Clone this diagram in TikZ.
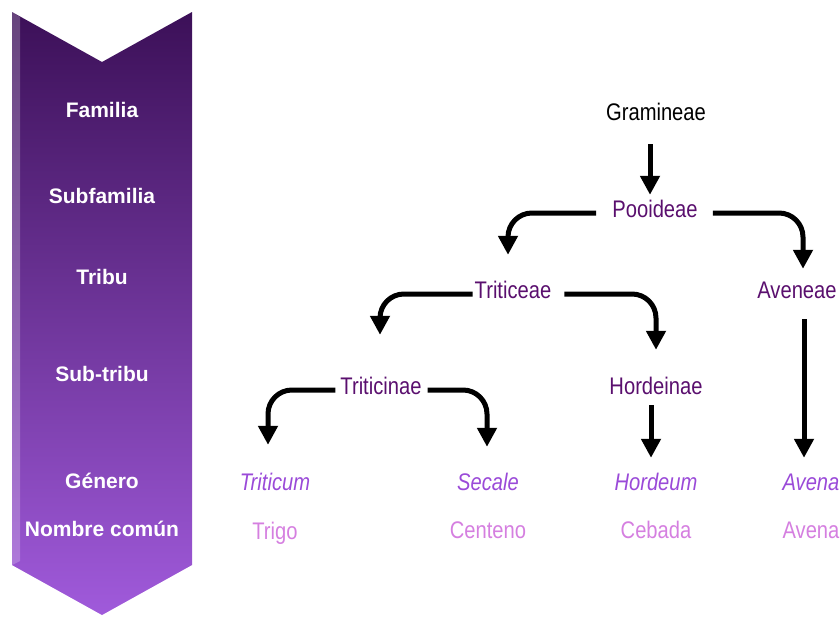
\documentclass[tikz,border=0pt]{standalone}
\usepackage{fontspec}
\setmainfont{Liberation Sans}
\newfontfamily\narrowfont{Liberation Sans}[FakeStretch=0.84]
\usepackage{tikz}
\usetikzlibrary{arrows.meta, positioning}
\definecolor{bandtop}{HTML}{3C1058}
\definecolor{bandbottom}{HTML}{A05ADB}
\definecolor{rankcol}{HTML}{5A0F6E}
\definecolor{genuscol}{HTML}{9A4AD8}
\definecolor{commoncol}{HTML}{D57FE0}
\tikzstyle{rank}=[text=white,font=\fontsize{21}{25}\selectfont\bfseries]
\tikzstyle{taxon}=[inner sep=0pt,text height=17pt,text depth=5pt,font=\fontsize{24}{28}\narrowfont]
\tikzstyle{genus}=[taxon,text=genuscol,font=\fontsize{24}{28}\narrowfont\itshape]
\tikzstyle{common}=[taxon,text=commoncol]
\tikzstyle{mainedge}=[-{Triangle[length=19pt,width=19pt]},line width=5pt,rounded corners=24pt]

\begin{document}
\begin{tikzpicture}[x=1pt,y=-1pt]
\useasboundingbox (0,0) rectangle (840,619);
% banner
\shade[top color=bandtop,bottom color=bandbottom] (12,12) -- (102,62) -- (192,12) -- (192,565) -- (102,615) -- (12,565) -- cycle;
\fill[white,opacity=0.22] (12,12) -- (20,17) -- (20,561) -- (12,565) -- cycle;
\node[rank] (familia) at (102,110) {Familia};
\node[rank] (subfamilia) at (102,196) {Subfamilia};
\node[rank] (tribu) at (102,277) {Tribu};
\node[rank] (subtribu) at (102,374) {Sub-tribu};
\node[rank] (genero) at (102,481) {Género};
\node[rank] (nombre) at (102,529) {Nombre común};
% tree
\node[taxon] (gram) at (656,114) {Gramineae};
\node[taxon,text=rankcol] (pooi) at (655,211) {Pooideae};
\node[taxon,text=rankcol] (trit) at (513,292) {Triticeae};
\node[taxon,text=rankcol] (aven) at (797,292) {Aveneae};
\node[taxon,text=rankcol] (tcin) at (381,388) {Triticinae};
\node[taxon,text=rankcol] (hord) at (656,388) {Hordeinae};
\node[genus] (triticum) at (275,484) {Triticum};
\node[genus] (secale) at (488,484) {Secale};
\node[genus] (hordeum) at (656,484) {Hordeum};
\node[genus] (avena) at (811,484) {Avena};
\node[common] (trigo) at (275,533) {Trigo};
\node[common] (centeno) at (488,532) {Centeno};
\node[common] (cebada) at (656,532) {Cebada};
\node[common] (avenac) at (811,532) {Avena};
% connectors
\draw[mainedge,shorten <=19pt,shorten >=5pt] ([xshift=-6pt]gram.south) -- ([xshift=-5pt]pooi.north);
\draw[mainedge,shorten <=16pt,shorten >=26pt] ([yshift=-2pt]pooi.west) -| ([xshift=-5pt]trit.north);
\draw[mainedge,shorten <=15pt,shorten >=12pt] ([yshift=-2pt]pooi.east) -| ([xshift=6pt]aven.north);
\draw[mainedge,shorten <=2pt,shorten >=42pt] ([yshift=-2pt]trit.west) -| ([xshift=-1pt]tcin.north);
\draw[mainedge,shorten <=13pt,shorten >=27pt] ([yshift=-2pt]trit.east) -| (hord.north);
\draw[mainedge,shorten <=5pt,shorten >=28pt] ([yshift=-2pt]tcin.west) -| ([xshift=-7pt]triticum.north);
\draw[mainedge,shorten <=6pt,shorten >=26pt] ([yshift=-2pt]tcin.east) -| ([xshift=-1pt]secale.north);
\draw[mainedge,shorten <=6pt,shorten >=15pt] ([xshift=-5pt]hord.south) -- ([xshift=-5pt]hordeum.north);
\draw[mainedge,shorten <=16pt,shorten >=15pt] ([xshift=7pt]aven.south) -- ([xshift=-7pt]avena.north);
\end{tikzpicture}
\end{document}
